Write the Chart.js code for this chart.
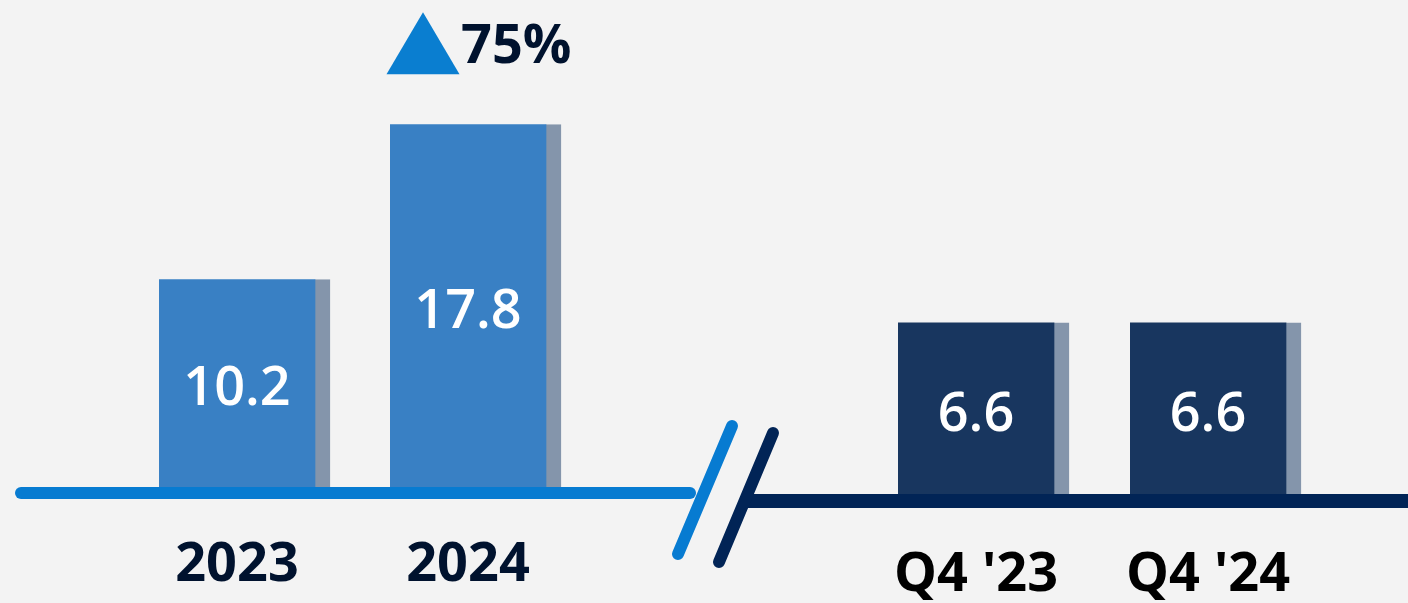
<!DOCTYPE html>
<html>
<head>
<meta charset="utf-8">
<script src="https://cdn.jsdelivr.net/npm/chart.js@4.4.1/dist/chart.umd.min.js"></script>
<style>
  html, body { margin: 0; padding: 0; width: 1408px; height: 603px; overflow: hidden; background: #f3f3f3; }
  #wrap { position: relative; width: 1408px; height: 603px; overflow: hidden; }
  canvas { position: absolute; top: 0; }
  #left { left: 0; }
  #right { left: 704px; }
</style>
</head>
<body>
<div id="wrap">
  <canvas id="left" width="760" height="645"></canvas>
  <canvas id="right" width="704" height="658"></canvas>
</div>
<script>
// ---- data ----
const annualLabels = ['2023', '2024'];
const annualValues = [10.2, 17.8];
const quarterLabels = ["Q4 '23", "Q4 '24"];
const quarterValues = [6.6, 6.6];
const growthText = '75%';

// ---- styles ----
const FONT = "'Open Sans', 'Noto Sans', sans-serif";
const SHADOW = 15;
const colLightBar = '#3980C4';
const colDarkBar = '#18365F';
const colShadow = '#8495AB';
const colLightLine = '#077BD1';
const colDarkLine = '#012456';
const colNavyText = '#00122E';

const valueLabelPlugin = {
  id: 'valueLabels',
  afterDatasetsDraw(chart) {
    const ctx = chart.ctx;
    const meta = chart.getDatasetMeta(0);
    const data = chart.data.datasets[0].data;
    ctx.save();
    ctx.fillStyle = '#ffffff';
    ctx.font = `600 54px ${FONT}`;
    ctx.textAlign = 'center';
    ctx.textBaseline = 'middle';
    meta.data.forEach((el, i) => {
      const cx = el.x - SHADOW / 2;
      const cy = (el.y + el.base) / 2 + 7;
      ctx.fillText(data[i].toFixed(1), cx, cy);
    });
    ctx.restore();
  }
};

const leftDecor = {
  id: 'leftDecor',
  afterDatasetsDraw(chart) {
    const ctx = chart.ctx;
    const y0 = chart.scales.y.getPixelForValue(0) + 6;
    ctx.save();
    ctx.lineCap = 'round';
    ctx.strokeStyle = colLightLine;
    ctx.lineWidth = 12;
    ctx.beginPath();
    ctx.moveTo(21, y0);
    ctx.lineTo(690, y0);
    ctx.stroke();
    // light break slash
    ctx.beginPath();
    ctx.moveTo(732, 426);
    ctx.lineTo(678, 554);
    ctx.stroke();
    // growth annotation above second bar
    const el = chart.getDatasetMeta(0).data[1];
    const cx = el.x - SHADOW / 2;
    const triBottom = el.y - 50;
    const triTop = triBottom - 62;
    const triCx = cx - 45;
    ctx.fillStyle = '#0A7ED0';
    ctx.beginPath();
    ctx.moveTo(triCx, triTop);
    ctx.lineTo(triCx + 36.5, triBottom);
    ctx.lineTo(triCx - 36.5, triBottom);
    ctx.closePath();
    ctx.fill();
    ctx.fillStyle = colNavyText;
    ctx.font = `700 54px ${FONT}`;
    ctx.textAlign = 'left';
    ctx.textBaseline = 'alphabetic';
    ctx.fillText(growthText, triCx + 38, triBottom - 11);
    ctx.restore();
  }
};

const rightDecor = {
  id: 'rightDecor',
  afterDatasetsDraw(chart) {
    const ctx = chart.ctx;
    const y0 = chart.scales.y.getPixelForValue(0) + 7;
    ctx.save();
    ctx.strokeStyle = colDarkLine;
    ctx.lineWidth = 14;
    ctx.lineCap = 'butt';
    ctx.beginPath();
    ctx.moveTo(40, y0);
    ctx.lineTo(710, y0);
    ctx.stroke();
    ctx.lineCap = 'round';
    ctx.lineWidth = 12;
    ctx.beginPath();
    ctx.moveTo(69, 433);
    ctx.lineTo(15, 562);
    ctx.stroke();
    ctx.restore();
  }
};

function makeChart(id, labels, values, color, yMax, padding, tickPad, tickColor, decor) {
  return new Chart(document.getElementById(id), {
    type: 'bar',
    data: {
      labels: labels,
      datasets: [{
        data: values,
        backgroundColor: color,
        borderColor: colShadow,
        borderWidth: { top: 0, right: SHADOW, bottom: 0, left: 0 },
        borderSkipped: 'bottom',
        barThickness: 171
      }]
    },
    options: {
      responsive: false,
      animation: false,
      layout: { padding: padding },
      plugins: { legend: { display: false }, tooltip: { enabled: false } },
      scales: {
        x: {
          offset: true,
          grid: { display: false, drawTicks: false },
          border: { display: false },
          ticks: {
            color: tickColor,
            font: { family: FONT, size: 54, weight: 700, lineHeight: 1.0 },
            padding: tickPad,
            labelOffset: -SHADOW / 2,
            maxRotation: 0,
            autoSkip: false
          }
        },
        y: { display: false, min: 0, max: yMax }
      }
    },
    plugins: [valueLabelPlugin, decor]
  });
}

makeChart('left', annualLabels, annualValues, colLightBar, 23.9,
  { left: 129, right: 169, top: 0, bottom: 0 }, 52, colNavyText, leftDecor);
makeChart('right', quarterLabels, quarterValues, colDarkBar, 19,
  { left: 163.5, right: 76.5, top: 0, bottom: 0 }, 55, '#000000', rightDecor);
</script>
</body>
</html>
